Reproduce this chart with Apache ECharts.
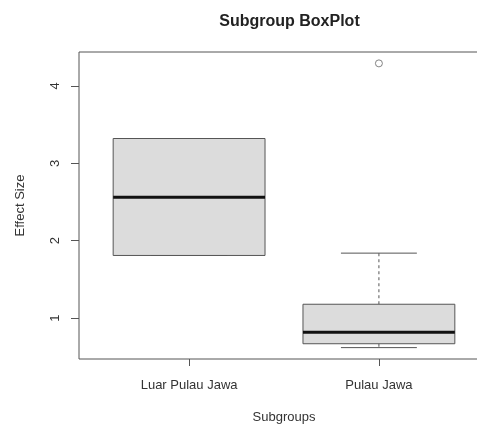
<!DOCTYPE html>
<html>
<head>
<meta charset="utf-8">
<script src="https://cdn.jsdelivr.net/npm/echarts@6/dist/echarts.min.js"></script>
<style>html,body{margin:0;padding:0;background:#fff}#c{width:477px;height:425px}</style>
</head>
<body>
<div id="c"></div>
<script>
var categories = ['Luar Pulau Jawa', 'Pulau Jawa'];
var lowerWhisker = [1.81, 0.62];
var q1 = [1.81, 0.67];
var median = [2.56, 0.82];
var q3 = [3.32, 1.18];
var upperWhisker = [3.32, 1.84];
var outlierGroup = [2];
var outlierValues = [4.29];
var yTicks = [1, 2, 3, 4];

var FONT = 'Liberation Sans, Arial, sans-serif';
var LINE = '#555';

var boxData = categories.map(function (c, i) {
  return [i + 1, lowerWhisker[i], q1[i], median[i], q3[i], upperWhisker[i]];
});
var outlierData = outlierGroup.map(function (g, i) { return [g, outlierValues[i]]; });

var chart = echarts.init(document.getElementById('c'), null, {renderer: 'canvas'});
chart.setOption({
  animation: false,
  backgroundColor: '#fff',
  title: {
    text: 'Subgroup BoxPlot',
    left: 284.5,
    top: 9,
    textAlign: 'center',
    textStyle: {fontFamily: FONT, fontSize: 16, fontWeight: 'bold', color: '#222'}
  },
  grid: {
    left: 79, top: 52, width: 410, height: 307,
    outerBoundsMode: 'none', containLabel: false,
    show: true, borderColor: LINE, borderWidth: 1, backgroundColor: 'transparent'
  },
  xAxis: {
    type: 'value', min: 0.42, max: 2.58,
    name: 'Subgroups', nameLocation: 'middle', nameGap: 52,
    nameTextStyle: {fontFamily: FONT, fontSize: 13, color: '#333'},
    axisLine: {show: false},
    splitLine: {show: false},
    axisTick: {show: true, length: 7, customValues: [1, 2], lineStyle: {color: LINE}},
    axisLabel: {
      customValues: [1, 2], margin: 20,
      fontFamily: FONT, fontSize: 13, color: '#333',
      formatter: function (v) { return categories[Math.round(v) - 1] || ''; }
    }
  },
  yAxis: {
    type: 'value', min: 0.473, max: 4.437,
    name: 'Effect Size', nameLocation: 'middle', nameGap: 52, nameRotate: 90,
    nameTextStyle: {fontFamily: FONT, fontSize: 13, color: '#333'},
    axisLine: {show: false},
    splitLine: {show: false},
    axisTick: {show: true, length: 8, customValues: yTicks, lineStyle: {color: LINE}},
    axisLabel: {
      customValues: yTicks, rotate: 90, margin: 17,
      fontFamily: FONT, fontSize: 13, color: '#333'
    }
  },
  series: [
    {
      type: 'custom',
      data: boxData,
      encode: {x: 0, y: [1, 2, 3, 4, 5]},
      renderItem: function (params, api) {
        var x = api.value(0);
        var lw = api.value(1), a = api.value(2), m = api.value(3), b = api.value(4), uw = api.value(5);
        var hw = 0.4, cw = 0.2;
        var tl = api.coord([x - hw, b]);
        var br = api.coord([x + hw, a]);
        var ml = api.coord([x - hw, m]);
        var mr = api.coord([x + hw, m]);
        var cTop = api.coord([x, b]);
        var cUw = api.coord([x, uw]);
        var cBot = api.coord([x, a]);
        var cLw = api.coord([x, lw]);
        var capUL = api.coord([x - cw, uw]), capUR = api.coord([x + cw, uw]);
        var capLL = api.coord([x - cw, lw]), capLR = api.coord([x + cw, lw]);
        var dash = {stroke: LINE, lineWidth: 1, lineDash: [3, 3]};
        var solid = {stroke: LINE, lineWidth: 1};
        return {
          type: 'group',
          children: [
            {type: 'line', shape: {x1: cTop[0], y1: cTop[1], x2: cUw[0], y2: cUw[1]}, style: dash},
            {type: 'line', shape: {x1: cBot[0], y1: cBot[1], x2: cLw[0], y2: cLw[1]}, style: dash},
            {type: 'line', shape: {x1: capUL[0], y1: capUL[1], x2: capUR[0], y2: capUR[1]}, style: solid},
            {type: 'line', shape: {x1: capLL[0], y1: capLL[1], x2: capLR[0], y2: capLR[1]}, style: solid},
            {type: 'rect', shape: {x: tl[0], y: tl[1], width: br[0] - tl[0], height: br[1] - tl[1]},
              style: {fill: '#dcdcdc', stroke: LINE, lineWidth: 1}},
            {type: 'line', shape: {x1: ml[0], y1: ml[1], x2: mr[0], y2: mr[1]}, style: {stroke: '#111', lineWidth: 3}}
          ]
        };
      }
    },
    {
      type: 'scatter',
      data: outlierData,
      symbol: 'circle',
      symbolSize: 7,
      itemStyle: {color: '#fff', borderColor: '#666', borderWidth: 1}
    }
  ]
});
</script>
</body>
</html>
